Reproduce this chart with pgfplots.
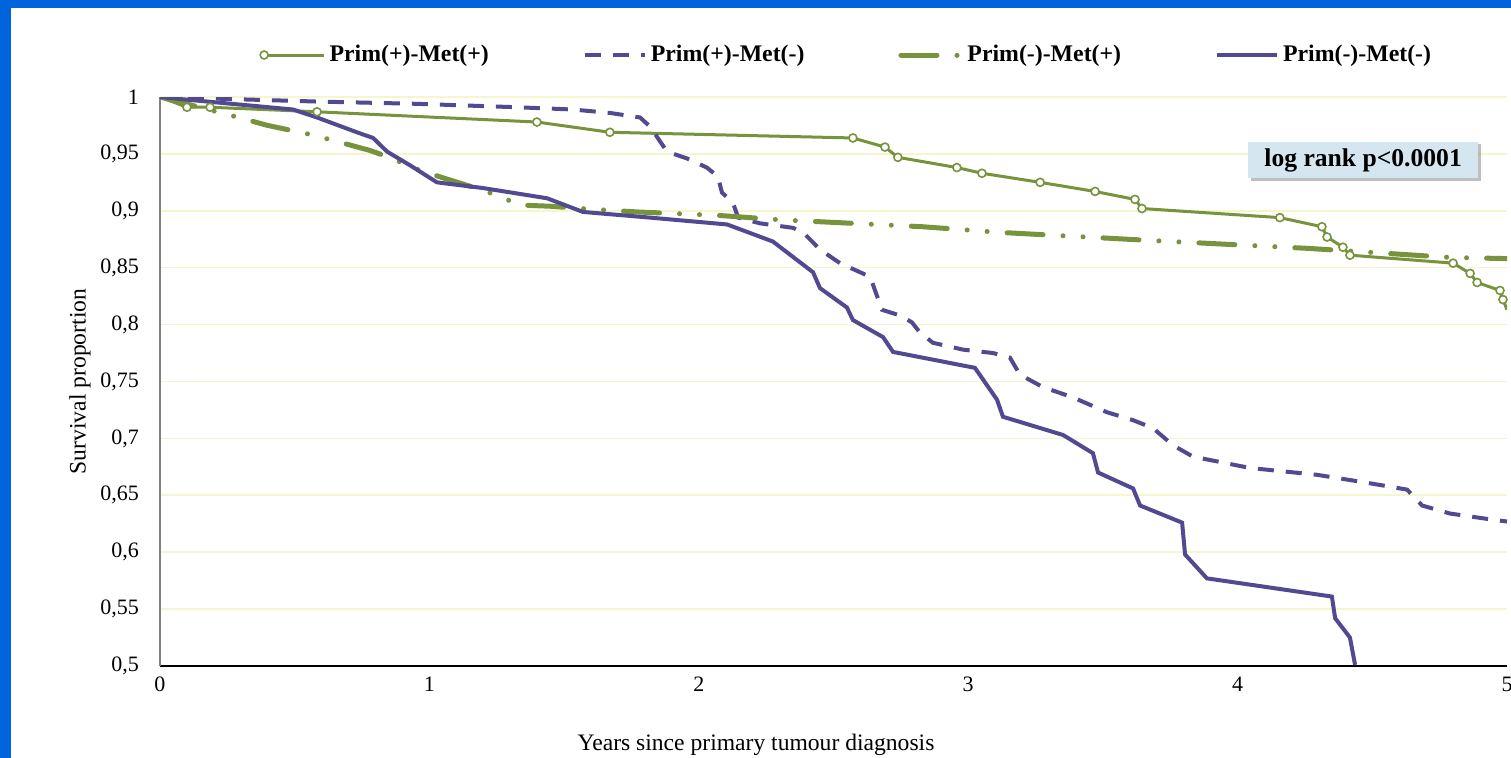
\documentclass[border=0pt]{standalone}
\usepackage{fontspec}
\setmainfont{Liberation Serif}
\usepackage{pgfplots}
\pgfplotsset{compat=1.18}
\usetikzlibrary{shadows}
\definecolor{kmgreen}{RGB}{119,147,60}
\definecolor{kmpurple}{RGB}{82,74,145}
\definecolor{frameblue}{RGB}{0,100,220}
\definecolor{gridyellow}{RGB}{246,246,205}
\definecolor{boxblue}{RGB}{214,230,240}
\begin{document}
\begin{tikzpicture}
\fill[frameblue] (-80pt,-46pt) rectangle (675.5pt,333pt);
\fill[white] (-74.5pt,-46pt) rectangle (675.5pt,329pt);
\begin{axis}[
  scale only axis, width=673.5pt, height=284.5pt,
  xmin=0, xmax=5, ymin=0.5, ymax=1,
  xtick={0,1,2,3,4,5},
  ytick={0.5,0.55,0.6,0.65,0.7,0.75,0.8,0.85,0.9,0.95,1},
  ymajorgrids, major grid style={gridyellow, line width=0.8pt},
  axis x line*=bottom, axis y line*=left,
  x axis line style={black, line width=1pt},
  y axis line style={gray, line width=0.8pt},
  major tick length=0pt,
  tick label style={font=\fontsize{11}{13}\selectfont},
  /pgf/number format/assume math mode=true,
  /pgf/number format/use comma,
  yticklabel style={xshift=-7pt},
  xticklabel style={yshift=-2pt},
  xlabel={Years since primary tumour diagnosis},
  ylabel={Survival proportion},
  label style={font=\fontsize{11.8}{14}\selectfont},
  xlabel style={at={(axis description cs:0.4425,-0.139)}, anchor=center},
  ylabel style={at={(axis description cs:-0.0594,0.5)}, anchor=center},
  legend columns=4,
  legend style={at={(axis description cs:0.069,1.0738)}, anchor=west,
    draw=none, fill=none, font=\bfseries\fontsize{11.9}{14}\selectfont,
    /tikz/every even column/.append style={column sep=45pt}},
  legend image code/.code={\draw[#1] (0pt,0pt) -- (30pt,0pt);},
]
% Prim(+)-Met(+)
\addplot[kmgreen, line width=1.5pt, mark=*, mark size=2pt,
  mark options={fill=white, draw=kmgreen, line width=0.8pt, solid},
  mark indices={2,3,4,5,6,7,8,9,10,11,12,13,14,15,16,17,18,19,20,21,22,23,24,25},
  legend image code/.code={\draw[kmgreen, line width=1.5pt] (0pt,0pt) -- (30pt,0pt);
    \node[circle, draw=kmgreen, fill=white, line width=0.8pt, inner sep=0pt, minimum size=4pt] at (0pt,0pt) {};}]
coordinates {
(0,1) (0.100,0.991) (0.186,0.991) (0.583,0.987) (1.399,0.978) (1.670,0.969)
(2.572,0.964) (2.691,0.956) (2.739,0.947) (2.958,0.938) (3.051,0.933) (3.267,0.925)
(3.471,0.917) (3.619,0.910) (3.645,0.902) (4.157,0.894) (4.313,0.886) (4.332,0.877)
(4.391,0.868) (4.417,0.861) (4.800,0.854) (4.863,0.845) (4.889,0.837) (4.974,0.830)
(4.985,0.822) (5.0,0.813)
};
\addlegendentry{Prim(+)-Met(+)}
% Prim(+)-Met(-)
\addplot[kmpurple, line width=2pt, dash pattern=on 8pt off 6pt]
coordinates {
(0,1) (0.583,0.996) (0.954,0.994) (1.325,0.991) (1.533,0.989) (1.670,0.986)
(1.782,0.982) (1.819,0.974) (1.882,0.952) (1.956,0.946) (2.030,0.938) (2.071,0.930)
(2.086,0.916) (2.127,0.907) (2.146,0.894) (2.227,0.889) (2.350,0.885) (2.387,0.881)
(2.450,0.866) (2.524,0.854) (2.636,0.842) (2.680,0.813) (2.747,0.808) (2.791,0.802)
(2.821,0.793) (2.869,0.784) (2.981,0.778) (3.092,0.775) (3.155,0.771) (3.192,0.756)
(3.278,0.745) (3.389,0.736) (3.515,0.723) (3.612,0.716) (3.686,0.709) (3.760,0.694)
(3.834,0.684) (4.046,0.674) (4.295,0.668) (4.480,0.661) (4.629,0.655) (4.685,0.641)
(4.788,0.634) (4.963,0.628) (5.0,0.627)
};
\addlegendentry{Prim(+)-Met(-)}
% Prim(-)-Met(+)
\addplot[kmgreen, line width=2.5pt, line cap=round,
  dash pattern=on 18pt off 10pt on 0.01pt off 10pt on 0.01pt off 10pt]
coordinates {
(0,1) (0.26,0.984) (0.40,0.975) (0.48,0.971) (0.56,0.967) (0.64,0.962)
(0.78,0.953) (0.85,0.947) (0.96,0.936) (1.05,0.929) (1.20,0.918) (1.34,0.905)
(1.45,0.904) (1.56,0.902) (1.77,0.899) (2.07,0.896) (2.31,0.892) (2.83,0.886)
(3.12,0.881) (3.67,0.874) (4.26,0.867) (4.79,0.859) (5.0,0.858)
};
\addlegendentry{Prim(-)-Met(+)}
% Prim(-)-Met(-)
\addplot[kmpurple, line width=2pt]
coordinates {
(0,1) (0.085,0.998) (0.494,0.989) (0.583,0.982) (0.731,0.969) (0.791,0.964)
(0.843,0.952) (0.928,0.940) (1.028,0.925) (1.199,0.920) (1.437,0.911) (1.570,0.899)
(1.819,0.894) (2.105,0.888) (2.275,0.873) (2.424,0.846) (2.450,0.832) (2.550,0.815)
(2.572,0.804) (2.684,0.789) (2.721,0.776) (3.025,0.762) (3.107,0.734) (3.129,0.719)
(3.352,0.703) (3.463,0.687) (3.482,0.670) (3.612,0.656) (3.638,0.641) (3.794,0.626)
(3.805,0.598) (3.886,0.577) (4.350,0.561) (4.362,0.542) (4.417,0.525) (4.436,0.501)
};
\addlegendentry{Prim(-)-Met(-)}
\node[fill=boxblue, font=\bfseries\fontsize{12.8}{15}\selectfont,
  minimum width=115pt, minimum height=18pt,
  drop shadow={shadow xshift=1.2pt, shadow yshift=-1.2pt, fill=gray, opacity=0.5}]
  at (axis cs:4.466,0.9446) {log rank p<0.0001};
\end{axis}
\pgfresetboundingbox
\path[use as bounding box] (-80pt,-46pt) rectangle (675.5pt,333pt);
\end{tikzpicture}
\end{document}
